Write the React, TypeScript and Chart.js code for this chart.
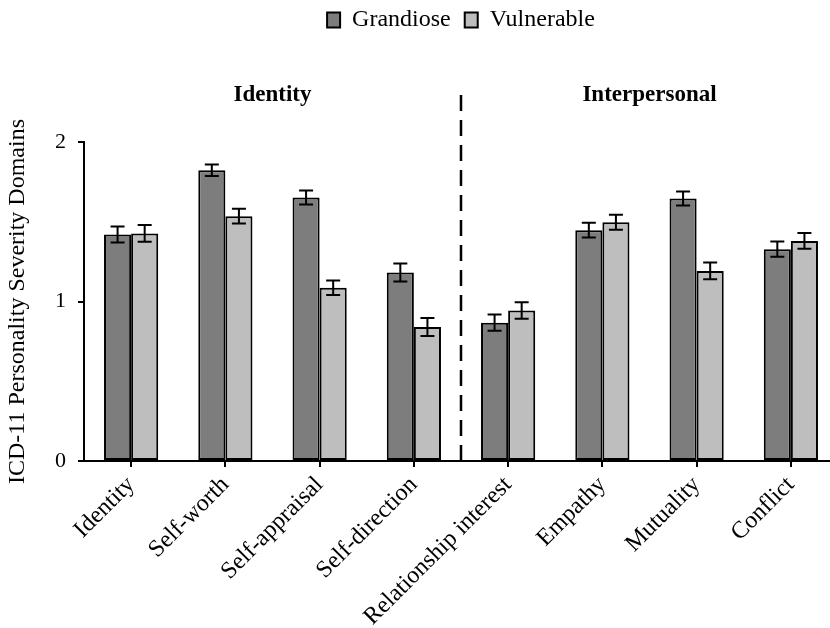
import React, { useEffect, useRef } from 'react';
import { Chart, registerables } from 'chart.js';

Chart.register(...registerables);

const categories = [
  'Identity',
  'Self-worth',
  'Self-appraisal',
  'Self-direction',
  'Relationship interest',
  'Empathy',
  'Mutuality',
  'Conflict',
];
const grandiose = [1.42, 1.823, 1.652, 1.182, 0.867, 1.447, 1.646, 1.328];
const grandioseErr = [0.05, 0.036, 0.044, 0.056, 0.051, 0.046, 0.044, 0.048];
const vulnerable = [1.427, 1.535, 1.086, 0.84, 0.944, 1.497, 1.192, 1.38];
const vulnerableErr = [0.052, 0.046, 0.045, 0.057, 0.052, 0.047, 0.052, 0.049];
const groupLabels = ['Identity', 'Interpersonal'];
const groupRanges = [
  [0, 3],
  [4, 7],
];
const yTickValues = [0, 1, 2];
const yTitle = 'ICD-11 Personality Severity Domains';

const SERIF = "'Liberation Serif', 'Times New Roman', serif";

const errorBarPlugin = {
  id: 'errorBars',
  afterDatasetsDraw(chart: any) {
    const ctx = chart.ctx;
    const y = chart.scales.y;
    chart.data.datasets.forEach((ds: any, i: number) => {
      const meta = chart.getDatasetMeta(i);
      meta.data.forEach((bar: any, j: number) => {
        const v = ds.data[j];
        const e = ds.errors[j];
        const yt = y.getPixelForValue(v + e);
        const yb = y.getPixelForValue(v - e);
        const x = bar.x;
        ctx.save();
        ctx.strokeStyle = '#000';
        ctx.lineWidth = 2;
        ctx.beginPath();
        ctx.moveTo(x, yt);
        ctx.lineTo(x, yb);
        ctx.moveTo(x - 7, yt);
        ctx.lineTo(x + 7, yt);
        ctx.moveTo(x - 7, yb);
        ctx.lineTo(x + 7, yb);
        ctx.stroke();
        ctx.restore();
      });
    });
  },
};

const groupPlugin = {
  id: 'groups',
  afterInit(chart: any) {
    const leg = chart.legend;
    if (leg) {
      const f = leg.fit.bind(leg);
      leg.fit = () => {
        f();
        leg.height = 142;
      };
    }
  },
  afterLayout(chart: any) {
    const leg = chart.legend;
    if (leg) {
      leg.left = chart.chartArea.left;
      leg.right = chart.chartArea.right;
      leg.top = -6;
    }
  },
  afterDraw(chart: any) {
    const ctx = chart.ctx;
    const x = chart.scales.x;
    const area = chart.chartArea;
    // dashed separator
    const sepX = (x.getPixelForValue(3) + x.getPixelForValue(4)) / 2;
    ctx.save();
    ctx.strokeStyle = '#000';
    ctx.lineWidth = 2.5;
    ctx.setLineDash([16, 9]);
    ctx.beginPath();
    ctx.moveTo(sepX, 95);
    ctx.lineTo(sepX, area.bottom);
    ctx.stroke();
    ctx.restore();
    // group labels
    ctx.save();
    ctx.fillStyle = '#000';
    ctx.font = `bold 23px ${SERIF}`;
    ctx.textAlign = 'center';
    ctx.textBaseline = 'middle';
    groupLabels.forEach((lab, i) => {
      const [a, b] = groupRanges[i];
      const cx = (x.getPixelForValue(a) + x.getPixelForValue(b)) / 2;
      ctx.fillText(lab, cx, 95);
    });
    ctx.restore();
  },
};

export default function App() {
  const ref = useRef<HTMLCanvasElement | null>(null);

  useEffect(() => {
    if (!ref.current) return;
    const chart = new Chart(ref.current, {
      type: 'bar',
      data: {
        labels: categories,
        datasets: [
          {
            label: 'Grandiose',
            data: grandiose,
            errors: grandioseErr,
            backgroundColor: '#7d7d7d',
            borderColor: '#000',
            borderWidth: 2,
            borderSkipped: false,
            barPercentage: 1.0,
            categoryPercentage: 0.575,
          } as any,
          {
            label: 'Vulnerable',
            data: vulnerable,
            errors: vulnerableErr,
            backgroundColor: '#bebebe',
            borderColor: '#000',
            borderWidth: 2,
            borderSkipped: false,
            barPercentage: 1.0,
            categoryPercentage: 0.575,
          } as any,
        ],
      },
      options: {
        responsive: false,
        animation: false,
        devicePixelRatio: 1,
        layout: { padding: 0 },
        plugins: {
          legend: {
            display: true,
            position: 'top',
            align: 'center',
            labels: {
              color: '#000',
              font: { family: SERIF, size: 24 },
              boxWidth: 13,
              boxHeight: 15,
              padding: 14,
            },
          },
          tooltip: { enabled: false },
        },
        scales: {
          x: {
            offset: true,
            afterFit: (s: any) => {
              s.height = 167;
            },
            grid: {
              display: true,
              drawOnChartArea: false,
              drawTicks: true,
              tickLength: 6,
              offset: false,
              color: '#000',
              lineWidth: 2,
            },
            border: { display: true, color: '#000', width: 2 },
            ticks: {
              color: '#000',
              font: { family: SERIF, size: 24 },
              maxRotation: 45,
              minRotation: 45,
              autoSkip: false,
              padding: 4,
            },
          },
          y: {
            min: 0,
            max: 2,
            afterFit: (s: any) => {
              s.width = 84;
            },
            afterBuildTicks: (s: any) => {
              s.ticks = yTickValues.map((v) => ({ value: v }));
            },
            grid: {
              display: true,
              drawOnChartArea: false,
              drawTicks: true,
              tickLength: 6,
              color: '#000',
              lineWidth: 2,
            },
            border: { display: true, color: '#000', width: 2 },
            ticks: {
              color: '#000',
              font: { family: SERIF, size: 22 },
              padding: 12,
            },
            title: {
              display: true,
              text: yTitle,
              color: '#000',
              font: { family: SERIF, size: 24 },
              padding: { top: 3, bottom: 4 },
            },
          },
        },
      },
      plugins: [errorBarPlugin, groupPlugin],
    } as any);
    return () => chart.destroy();
  }, []);

  return (
    <div style={{ position: 'fixed', left: 0, top: 0, width: 838, height: 628, background: '#fff' }}>
      <canvas ref={ref} width={838} height={628} style={{ display: 'block' }} />
    </div>
  );
}
